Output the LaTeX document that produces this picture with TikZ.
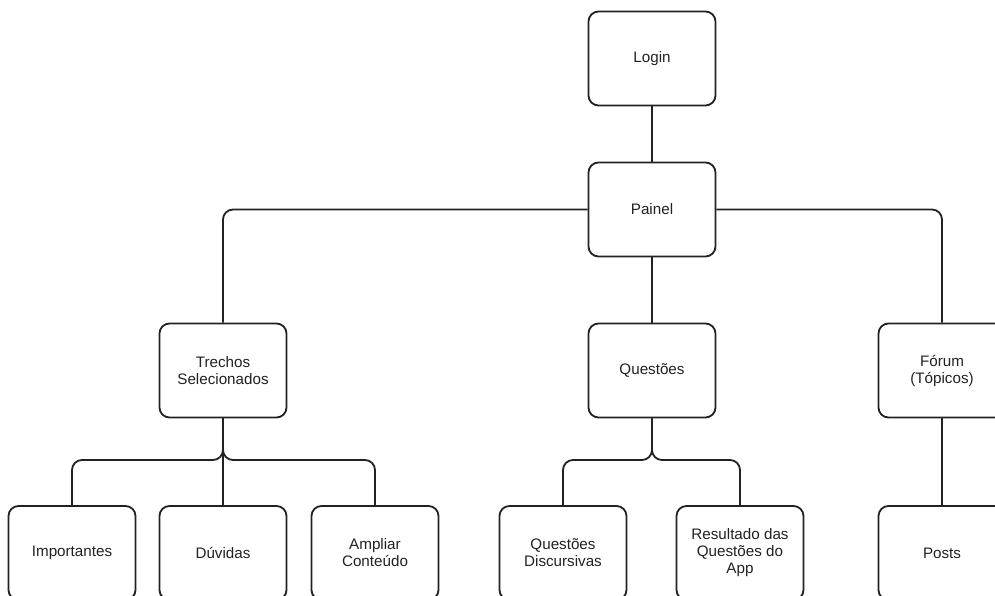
\documentclass[tikz,border=0pt]{standalone}
\usepackage{fontspec}
\setmainfont{Liberation Sans}
\definecolor{ink}{HTML}{222222}
\begin{document}
\begin{tikzpicture}[x=1pt,y=-1pt,
  box/.style={draw=ink, line width=1.8pt, rounded corners=10pt, fill=white,
    minimum width=127pt, minimum height=94pt, inner sep=2pt, align=center,
    text=ink, font=\fontsize{15.2}{17}\selectfont},
  link/.style={draw=ink, line width=1.8pt, rounded corners=10pt}]
\useasboundingbox (0,0) rectangle (995,595);
\clip (0,0) rectangle (995,595);
\fill[white] (0,0) rectangle (995,595);

\node[box] (login) at (652,58.5) {Login};
\node[box] (painel) at (652,209.5) {Painel};
\node[box] (trechos) at (223,370.5) {Trechos\\Selecionados};
\node[box] (questoes) at (652,370.5) {Questões};
\node[box] (forum) at (942,370.5) {Fórum\\(Tópicos)};
\node[box] (imp) at (72,553) {Importantes};
\node[box] (duv) at (223,553) {Dúvidas};
\node[box] (amp) at (375,553) {Ampliar\\Conteúdo};
\node[box] (disc) at (563,553) {Questões\\Discursivas};
\node[box] (res) at (740,553) {Resultado das\\Questões do\\App};
\node[box] (posts) at (942,553) {Posts};

\draw[link] (login.south) -- (painel.north);
\draw[link] (painel.south) -- (questoes.north);
\draw[link] (painel.west) -| (trechos.north);
\draw[link] (painel.east) -| (forum.north);
\draw[link] (forum.south) -- (posts.north);

\draw[link] (trechos.south) |- (72,460) -- (imp.north);
\draw[link] (trechos.south) -- (duv.north);
\draw[link] (trechos.south) |- (375,460) -- (amp.north);

\draw[link] (questoes.south) |- (563,460) -- (disc.north);
\draw[link] (questoes.south) |- (740,460) -- (res.north);
\end{tikzpicture}
\end{document}
